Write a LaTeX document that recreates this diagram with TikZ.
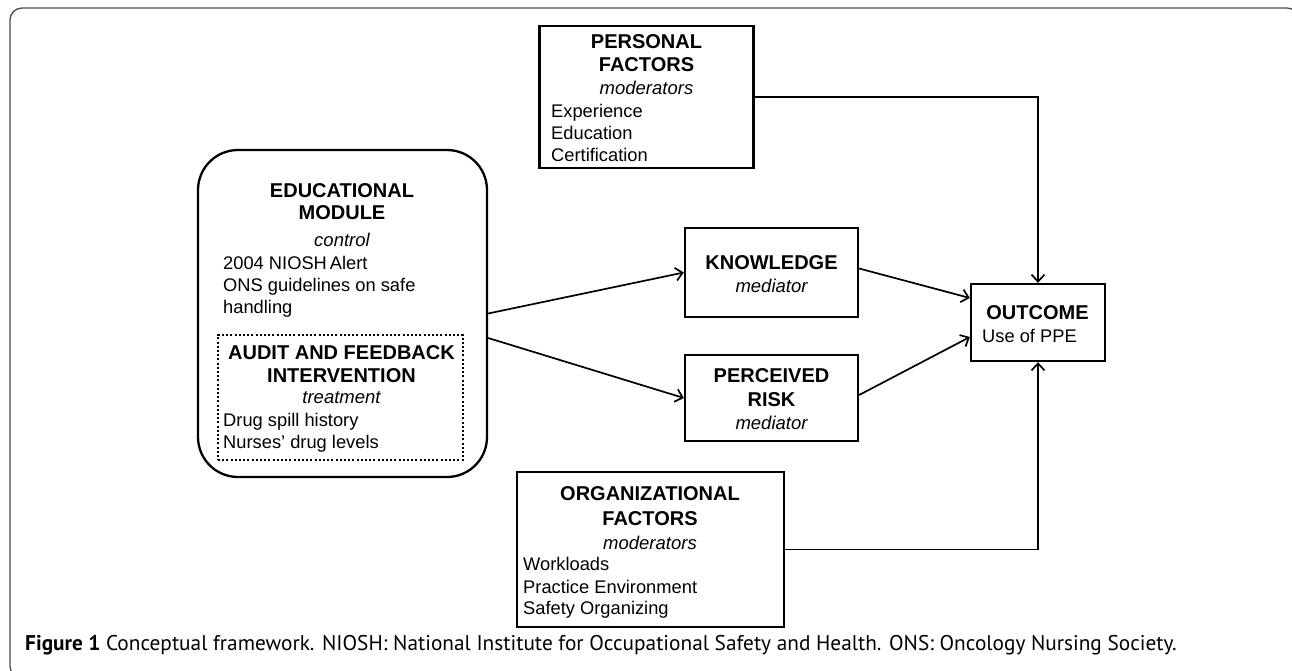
\documentclass[tikz,border=0pt]{standalone}
\usepackage{fontspec}
\setmainfont{Liberation Sans}
\newfontfamily\capfont{PT Sans}
\usetikzlibrary{arrows.meta,calc}
\begin{document}
\begin{tikzpicture}[x=1pt,y=-1pt,
  hd/.style={font=\fontsize{20}{24}\bfseries\selectfont, anchor=base, inner sep=0},
  itx/.style={font=\fontsize{18.5}{22}\itshape\selectfont, anchor=base, inner sep=0},
  tx/.style={font=\fontsize{18.3}{22}\selectfont, anchor=base west, inner sep=0},
  box/.style={draw, line width=2.3pt, inner sep=0},
  conn/.style={line width=1.7pt, -{Straight Barb[length=7pt,width=13pt,line width=1.7pt]}},
  frame/.style={draw=black!70, line width=1.3pt, rounded corners=12pt}]
\useasboundingbox (0,0) rectangle (1292,671);
\fill[white] (0,0) rectangle (1292,671);
\draw[frame] (10,8) rectangle (1299,678);

% boxes
\node[box, minimum width=214pt, minimum height=142pt] (pers) at (646.5,97) {};
\node[box, rounded corners=40pt, minimum width=289pt, minimum height=327pt] (edu) at (342.5,313.5) {};
\node[draw, line width=2pt, dash pattern=on 2pt off 2.2pt, minimum width=245pt, minimum height=125pt, inner sep=0] (aud) at (340.5,397.5) {};
\node[box, minimum width=173pt, minimum height=89pt] (know) at (771.5,272.5) {};
\node[box, minimum width=173pt, minimum height=86pt] (perc) at (771.5,398) {};
\node[box, minimum width=134pt, minimum height=77pt] (out) at (1038,322.5) {};
\node[box, minimum width=267pt, minimum height=155pt] (org) at (650.5,549.5) {};

% personal
\node[hd] (persA) at (646.5,49) {PERSONAL};
\node[hd] (persB) at (646.5,72) {FACTORS};
\node[itx] (persC) at (646.5,95) {moderators};
\node[tx] (persD) at (551,118) {Experience};
\node[tx] (persE) at (551,140) {Education};
\node[tx] (persF) at (551,162) {Certification};

% educational
\node[hd] (eduA) at (342,197) {EDUCATIONAL};
\node[hd] (eduB) at (342,219) {MODULE};
\node[itx] (eduC) at (342,246) {control};
\node[tx] (eduD) at (223,269.5) {2004 NIOSH\kern-0.12em\ Alert};
\node[tx] (eduE) at (223,291.5) {ONS guidelines on safe};
\node[tx] (eduF) at (223,313) {handling};
\node[hd] (audA) at (341.5,359) {AUDIT AND FEEDBACK};
\node[hd] (audB) at (341.5,382) {INTERVENTION};
\node[itx] (audC) at (341.5,403.5) {treatment};
\node[tx] (audD) at (223,426.5) {Drug spill history};
\node[tx] (audE) at (223,448.5) {Nurses’ drug levels};

% knowledge / perceived risk
\node[hd] (knowA) at (771.5,269) {KNOWLEDGE};
\node[itx] (knowB) at (771.5,292) {mediator};
\node[hd] (percA) at (771.5,382) {PERCEIVED};
\node[hd] (percB) at (771.5,406) {RISK};
\node[itx] (percC) at (771.5,429) {mediator};

% outcome
\node[hd] (outA) at (1037.5,319) {OUTCOME};
\node[tx] (outB) at (982,342) {Use of PPE};

% organizational
\node[hd] (orgA) at (650,500) {ORGANIZATIONAL};
\node[hd] (orgB) at (650,525.5) {FACTORS};
\node[itx] (orgC) at (650,549) {moderators};
\node[tx] (orgD) at (523,570.5) {Workloads};
\node[tx] (orgE) at (523,593) {Practice Environment};
\node[tx] (orgF) at (523,614.5) {Safety Organizing};

% connectors
\draw[conn] (edu.east) -- (know.west);
\draw[conn] ([yshift=-24.5pt]edu.east) -- (perc.west);
\draw[conn] ([yshift=4pt]know.east) -- ([yshift=24.5pt]out.west);
\draw[conn] ([yshift=3pt]perc.east) -- ([yshift=-14.5pt]out.west);
\draw[conn] (pers.east) -| (out.north);
\draw[conn] (org.east) -| (out.south);

% caption
\node[anchor=base west, inner sep=0, font=\capfont\fontsize{21.3}{24}\selectfont] (cap) at (25,650)
  {\textbf{Figure 1} Conceptual framework. NIOSH: National Institute for Occupational Safety and Health. ONS: Oncology Nursing Society.};
\end{tikzpicture}
\end{document}
